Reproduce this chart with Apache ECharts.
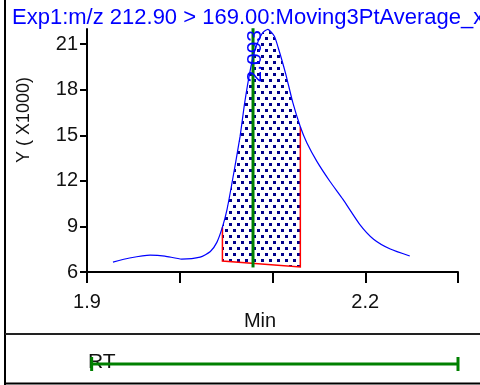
<!DOCTYPE html>
<html>
<head>
<meta charset="utf-8">
<script src="https://cdn.jsdelivr.net/npm/echarts@6/dist/echarts.min.js"></script>
<style>html,body{margin:0;padding:0;background:#fff}#c{width:480px;height:385px}</style>
</head>
<body>
<div id="c"></div>
<script>
// ---- data ----
const titleText = 'Exp1:m/z 212.90 > 169.00:Moving3PtAverage_x';
const curveX = [1.928, 1.946, 1.968, 1.984, 2.002, 2.022, 2.033, 2.040, 2.046, 2.051, 2.057, 2.065, 2.070, 2.076, 2.081, 2.089, 2.095, 2.102, 2.106, 2.114, 2.122, 2.130, 2.137, 2.148, 2.162, 2.176, 2.194, 2.209, 2.227, 2.248];
const curveY = [6.65, 6.92, 7.11, 7.05, 6.85, 6.98, 7.35, 7.95, 8.95, 10.13, 12.09, 14.91, 17.13, 19.29, 20.60, 21.72, 21.98, 21.52, 20.80, 19.10, 17.13, 15.56, 14.51, 13.27, 11.96, 10.78, 9.14, 8.16, 7.51, 7.05];
const peakX = [2.046, 2.130];      // integration start / end
const baseY = [6.72, 6.33];        // baseline at start / end
const apexX = 2.079;
const apexLabel = '2.093';
const rtRange = [1.905, 2.300];
const xTicks = [1.9, 2.0, 2.1, 2.2, 2.3];
const xLabels = [1.9, 2.2];
const yTicks = [6, 9, 12, 15, 18, 21];
const xName = 'Min';
const yName = 'Y ( X1000)';
const rtName = 'RT';

// ---- dotted fill pattern ----
const pat = document.createElement('canvas');
pat.width = 8; pat.height = 12;
const pc = pat.getContext('2d');
pc.fillStyle = '#00008b';
pc.fillRect(1, 1, 3, 3);
pc.fillRect(5, 7, 3, 3);

const FONT = 'Liberation Sans';
const chart = echarts.init(document.getElementById('c'), null, {renderer: 'canvas'});

const curveData = curveX.map((x, i) => [x, curveY[i]]);

const option = {
  animation: false,
  backgroundColor: '#fff',
  grid: [
    {left: 87, right: 22, top: 29, bottom: 113},
    {left: 87, right: 22, top: 344, height: 40}
  ],
  xAxis: [{
    gridIndex: 0, type: 'value', min: 1.9, max: 2.3,
    axisLine: {lineStyle: {color: '#000', width: 2}},
    axisTick: {customValues: xTicks, length: 11, lineStyle: {color: '#000', width: 2}},
    axisLabel: {customValues: xLabels, margin: 20, color: '#111', fontFamily: FONT, fontSize: 20,
      formatter: v => v.toFixed(1)},
    splitLine: {show: false}
  }, {
    gridIndex: 1, type: 'value', min: 1.9, max: 2.3, show: false
  }],
  yAxis: [{
    gridIndex: 0, type: 'value', min: 6, max: 22,
    axisLine: {show: true, lineStyle: {color: '#000', width: 2}},
    axisTick: {show: true, customValues: yTicks, length: 7, lineStyle: {color: '#000', width: 2}},
    axisLabel: {customValues: yTicks, margin: 9, color: '#111', fontFamily: FONT, fontSize: 20},
    splitLine: {show: false}
  }, {
    gridIndex: 1, type: 'value', min: 0, max: 1, show: false
  }],
  graphic: [
    {type: 'text', left: 12, top: 7, style: {text: titleText, fill: '#0000ff', font: '22px "' + FONT + '"'}, z: 10},
    {type: 'text', x: 260, y: 321, style: {text: xName, fill: '#111', font: '20px "' + FONT + '"', align: 'center', verticalAlign: 'middle'}},
    {type: 'text', x: 24, y: 120, rotation: Math.PI / 2, style: {text: yName, fill: '#111', font: '18px "' + FONT + '"', align: 'center', verticalAlign: 'middle'}},
    {type: 'text', x: 88, y: 362, style: {text: rtName, fill: '#111', font: '21px "' + FONT + '"', align: 'left', verticalAlign: 'middle'}},
    {type: 'line', shape: {x1: 5, y1: 0, x2: 5, y2: 385}, style: {stroke: '#000', lineWidth: 2}},
    {type: 'line', shape: {x1: 5, y1: 334, x2: 480, y2: 334}, style: {stroke: '#222', lineWidth: 2}},
    {type: 'line', shape: {x1: 5, y1: 383.5, x2: 480, y2: 383.5}, style: {stroke: '#000', lineWidth: 2}}
  ],
  series: [
    {
      type: 'custom', xAxisIndex: 0, yAxisIndex: 0, data: [0], clip: false, z: 1,
      renderItem: (params, api) => {
        const top = curveData.filter(p => p[0] >= peakX[0] - 1e-9 && p[0] <= peakX[1] + 1e-9).map(p => api.coord(p));
        const bl = api.coord([peakX[0], baseY[0]]);
        const br = api.coord([peakX[1], baseY[1]]);
        const tl = api.coord([peakX[0], curveY[curveX.indexOf(peakX[0])]]);
        const tr = api.coord([peakX[1], curveY[curveX.indexOf(peakX[1])]]);
        return {type: 'group', children: [
          {type: 'polygon', shape: {points: top.concat([br, bl])}, style: {fill: {image: pat, repeat: 'repeat'}, stroke: null}},
          {type: 'polyline', shape: {points: [tl, bl, br, tr]}, style: {stroke: '#ff0000', lineWidth: 1.5, fill: null}}
        ]};
      }
    },
    {
      type: 'custom', xAxisIndex: 0, yAxisIndex: 0, data: [0], clip: false, z: 3,
      renderItem: (params, api) => {
        const p1 = api.coord([apexX, 22.05]);
        const p2 = api.coord([apexX, 6.3]);
        return {type: 'group', children: [
          {type: 'line', shape: {x1: p1[0], y1: p1[1], x2: p2[0], y2: p2[1]}, style: {stroke: '#008000', lineWidth: 3}},
          {type: 'text', x: p1[0] + 2, y: p1[1] + 28, rotation: Math.PI / 2,
            style: {text: apexLabel, fill: '#0000ff', font: '21px "' + FONT + '"', align: 'center', verticalAlign: 'middle'}}
        ]};
      }
    },
    {
      type: 'line', xAxisIndex: 0, yAxisIndex: 0, data: curveData, smooth: 0.2, showSymbol: false, clip: false, z: 4,
      lineStyle: {color: '#0000ff', width: 1.2}
    },
    {
      type: 'custom', xAxisIndex: 1, yAxisIndex: 1, data: [0], clip: false,
      renderItem: (params, api) => {
        const a = api.coord([rtRange[0], 0.5]);
        const b = api.coord([rtRange[1], 0.5]);
        const s = {stroke: '#008000', lineWidth: 3};
        return {type: 'group', children: [
          {type: 'line', shape: {x1: a[0], y1: a[1], x2: b[0], y2: b[1]}, style: s},
          {type: 'line', shape: {x1: a[0], y1: a[1] - 7, x2: a[0], y2: a[1] + 7}, style: s},
          {type: 'line', shape: {x1: b[0], y1: b[1] - 7, x2: b[0], y2: b[1] + 7}, style: s}
        ]};
      }
    }
  ]
};
chart.setOption(option);
</script>
</body>
</html>
